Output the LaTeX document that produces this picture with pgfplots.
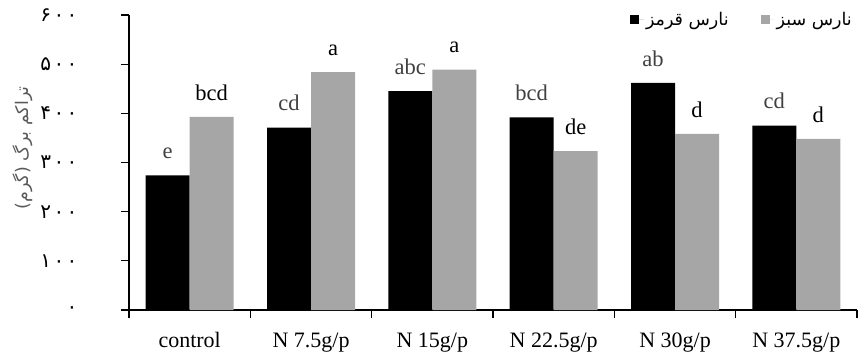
\documentclass[border=0pt]{standalone}
\usepackage{fontspec}
\setmainfont{Liberation Serif}
\newfontfamily\arabicfont[Script=Arabic]{DejaVu Sans}
\newfontfamily\digitfont[Script=Arabic, LetterSpace=12]{DejaVu Sans}
\TeXXeTstate=1
\usepackage{pgfplots}
\pgfplotsset{compat=1.18}
\definecolor{bargray}{HTML}{A6A6A6}
\definecolor{labgray}{HTML}{404040}
\definecolor{ylabgray}{HTML}{595959}
\begin{document}
\begin{tikzpicture}[x=1pt,y=1pt]
\useasboundingbox (0,0) rectangle (861,354);
\begin{axis}[
  at={(129pt,44pt)}, anchor=south west,
  scale only axis, width=728pt, height=295pt,
  ybar=0pt, bar width=44pt,
  xmin=-0.5, xmax=5.5, ymin=0, ymax=600,
  axis x line*=bottom, axis y line*=left,
  axis line style={black, line width=1.1pt},
  tick align=outside, major tick length=8pt,
  tick style={black, line width=1.1pt},
  xtick={-0.5,0.5,1.5,2.5,3.5,4.5,5.5}, xticklabels={},
  extra x ticks={0,1,2,3,4,5},
  extra x tick labels={control, N 7.5g/p, N 15g/p, N 22.5g/p, N 30g/p, N 37.5g/p},
  extra x tick style={tick style={draw=none}},
  xticklabel style={font=\fontsize{22}{24}\selectfont, yshift=-11pt},
  ytick={0,100,200,300,400,500,600},
  yticklabels={۰,۱۰۰,۲۰۰,۳۰۰,۴۰۰,۵۰۰,۶۰۰},
  yticklabel style={font=\digitfont\fontsize{20}{20}\selectfont, xshift=-40pt},
  point meta=explicit symbolic,
  nodes near coords,
  nodes near coords style={font=\fontsize{22.5}{23}\selectfont, anchor=south, yshift=13pt},
  legend columns=2,
  legend style={draw=none, fill=none, at={(1.0,0.985)}, anchor=east,
    font=\arabicfont\fontsize{17.5}{18}\selectfont,
    /tikz/column 2/.style={column sep=30pt}},
]
\addplot[fill=black, draw=none,
  every node near coord/.append style={text=labgray},
  legend image code/.code={\fill[black] (0pt,-4.5pt) rectangle (9pt,4.5pt); \path (0pt,0pt) -- (14pt,0pt);}]
  coordinates {(0,274)[e] (1,371)[cd] (2,445)[abc] (3,392)[bcd] (4,462)[ab] (5,375)[cd]};
\addplot[fill=bargray, draw=none,
  every node near coord/.append style={text=black},
  legend image code/.code={\fill[bargray] (0pt,-4.5pt) rectangle (9pt,4.5pt); \path (0pt,0pt) -- (14pt,0pt);}]
  coordinates {(0,393)[bcd] (1,484)[a] (2,489)[a] (3,323)[de] (4,358)[d] (5,348)[d]};
\legend{\beginR نارس قرمز\endR, \beginR نارس سبز\endR}
\end{axis}
\node[rotate=90, text=ylabgray, font=\arabicfont\fontsize{17.5}{18}\selectfont] at (23,206) {\beginR تراکم برگ (گرم)\endR};
\end{tikzpicture}
\end{document}
